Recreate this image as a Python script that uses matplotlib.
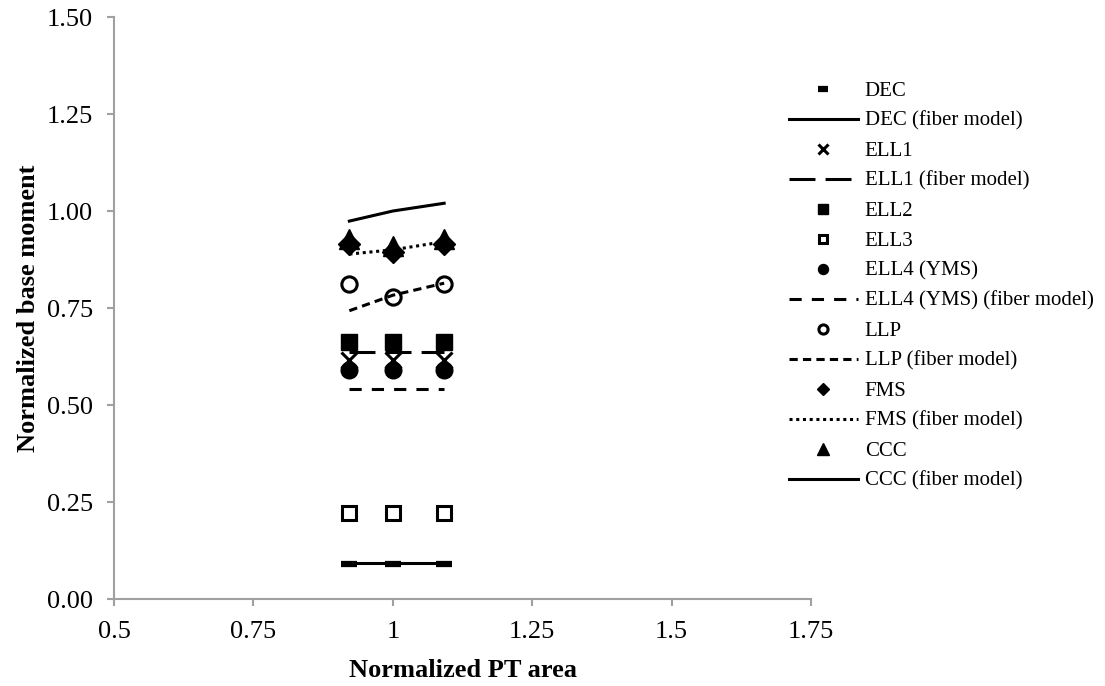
import matplotlib.pyplot as plt

plt.rcParams['font.family'] = ['Liberation Serif', 'DejaVu Serif']

# Normalized PT area
pt_area = [0.922, 1.0, 1.092]

# Normalized base moment, test-type series
dec = [0.090, 0.090, 0.090]
ell1 = [0.615, 0.615, 0.615]
ell2 = [0.662, 0.662, 0.662]
ell3 = [0.221, 0.221, 0.221]
ell4 = [0.590, 0.590, 0.590]
llp = [0.812, 0.779, 0.812]
fms = [0.915, 0.895, 0.915]
ccc = [0.928, 0.910, 0.928]

# fiber model series
dec_fib = [0.092, 0.092, 0.092]
ell1_fib = [0.636, 0.636, 0.636]
ell4_fib = [0.541, 0.541, 0.541]
llp_fib = [0.743, 0.783, 0.814]
fms_fib = [0.889, 0.900, 0.921]
ccc_fib = [0.974, 1.000, 1.020]

xticks = [0.5, 0.75, 1, 1.25, 1.5, 1.75]
xtick_labels = ['0.5', '0.75', '1', '1.25', '1.5', '1.75']
yticks = [0.0, 0.25, 0.5, 0.75, 1.0, 1.25, 1.5]
ytick_labels = ['0.00', '0.25', '0.50', '0.75', '1.00', '1.25', '1.50']

fig = plt.figure(figsize=(11.05, 6.86), dpi=100)
ax = fig.add_axes([0.1032, 0.1268, 0.6308, 0.8484])

k = 'black'
lw = 2.2
ax.plot(pt_area, dec, ls='none', marker='_', ms=12, mew=4.5, color=k, label='DEC')
ax.plot(pt_area, dec_fib, ls='-', lw=lw, color=k, label='DEC (fiber model)')
ax.plot(pt_area, ell1, ls='none', marker='x', ms=11, mew=2.2, color=k, label='ELL1')
ax.plot(pt_area, ell1_fib, ls=(0, (8.5, 3.3)), lw=lw, color=k, label='ELL1 (fiber model)')
ax.plot(pt_area, ell2, ls='none', marker='s', ms=11, color=k, label='ELL2')
ax.plot(pt_area, ell3, ls='none', marker='s', ms=10, mew=2.2, mfc='white', color=k, label='ELL3')
ax.plot(pt_area, ell4, ls='none', marker='o', ms=12, color=k, label='ELL4 (YMS)')
ax.plot(pt_area, ell4_fib, ls=(0, (4, 3.3)), lw=lw, color=k, label='ELL4 (YMS) (fiber model)')
ax.plot(pt_area, llp, ls='none', marker='o', ms=11, mew=2.2, mfc='none', color=k, label='LLP')
ax.plot(pt_area, llp_fib, ls=(0, (2.7, 1.7)), lw=lw, color=k, label='LLP (fiber model)')
ax.plot(pt_area, fms, ls='none', marker='D', ms=11, color=k, label='FMS')
ax.plot(pt_area, fms_fib, ls=(0, (1, 1.2)), lw=lw, color=k, label='FMS (fiber model)')
ax.plot(pt_area, ccc, ls='none', marker='^', ms=15, color=k, label='CCC')
ax.plot(pt_area, ccc_fib, ls='-', lw=lw, color=k, label='CCC (fiber model)')

ax.set_xlim(0.5, 1.75)
ax.set_ylim(0, 1.5)
ax.set_xticks(xticks)
ax.set_xticklabels(xtick_labels)
ax.set_yticks(yticks)
ax.set_yticklabels(ytick_labels)

for s in ['top', 'right']:
    ax.spines[s].set_visible(False)
for s in ['left', 'bottom']:
    ax.spines[s].set_color('#a0a0a0')
    ax.spines[s].set_linewidth(1.5)
ax.tick_params(axis='both', colors='#a0a0a0', length=5, width=1.5, labelsize=19,
               labelcolor='black')
ax.tick_params(axis='x', pad=11)
ax.tick_params(axis='y', pad=10)

ax.set_xlabel('Normalized PT area', fontsize=19, fontweight='bold', labelpad=11)
ax.set_ylabel('Normalized base moment', fontsize=19, fontweight='bold', labelpad=5)

fig.legend(loc='center left', bbox_to_anchor=(0.714, 0.583), frameon=False,
           fontsize=15, handlelength=3.3, handletextpad=0.34, labelspacing=0.50,
           markerscale=0.6, borderpad=0, borderaxespad=0)

fig.savefig('out.png', dpi=100)
